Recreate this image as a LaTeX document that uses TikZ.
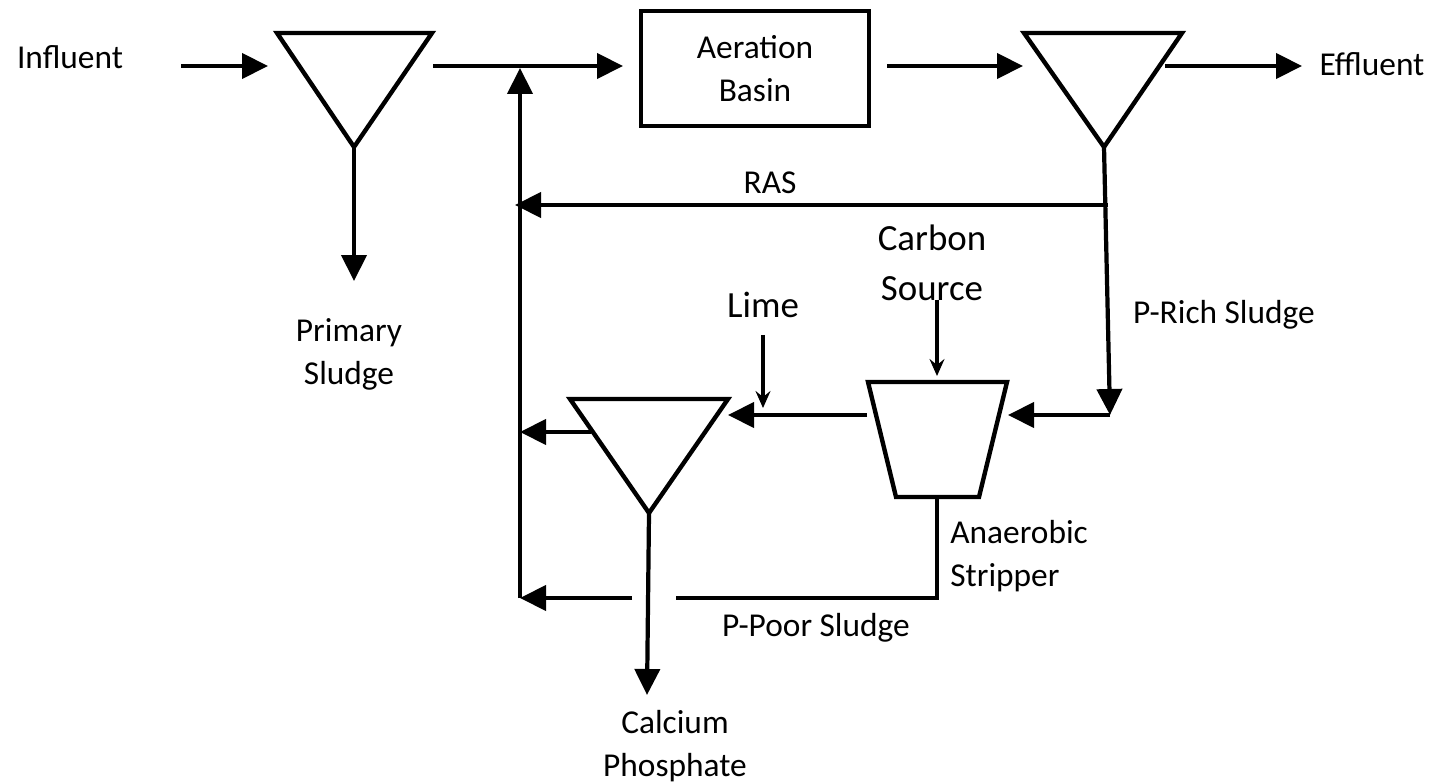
\documentclass[tikz,border=0pt]{standalone}
\usepackage{fontspec}
\setmainfont{Carlito}
\usetikzlibrary{arrows.meta,calc}

\begin{document}
\begin{tikzpicture}[x=0.02cm,y=-0.02cm,
  unit/.style={line width=2.5pt,line join=miter},
  pipe/.style={line width=2.4pt},
  flow/.style={pipe,-{Triangle[length=0.52cm,width=0.5cm]}},
  feed/.style={line width=1.9pt,-{Stealth[length=0.34cm,width=0.3cm,inset=0.12cm]}},
  lbl/.style={font=\fontsize{19}{24.5}\selectfont,align=center,inner sep=0pt},
  biglbl/.style={font=\fontsize{21}{28.5}\selectfont,align=center,inner sep=0pt}]
\useasboundingbox (0,0) rectangle (1435,783);

% primary clarifier
\coordinate (P1) at (277,33);
\coordinate (P2) at (432,33);
\coordinate (P3) at (354,147);
\draw[unit] (P1) -- (P2) -- (P3) -- cycle;

% aeration basin
\node[draw,unit,minimum width=4.56cm,minimum height=2.3cm,lbl] (basin) at (755,68.5) {Aeration\\Basin};

% secondary clarifier
\coordinate (S1) at (1024,33);
\coordinate (S2) at (1182,33);
\coordinate (S3) at (1104,147);
\draw[unit] (S1) -- (S2) -- (S3) -- cycle;

% anaerobic stripper
\coordinate (T1) at (868,382);
\coordinate (T2) at (1007,382);
\coordinate (T3) at (979,497);
\coordinate (T4) at (896,497);
\draw[unit] (T1) -- (T2) -- (T3) -- (T4) -- cycle;

% lime clarifier
\coordinate (C1) at (570,399);
\coordinate (C2) at (728,399);
\coordinate (C3) at (649,513);
\draw[unit] (C1) -- (C2) -- (C3) -- cycle;

% labels
\node[lbl] (influent) at (70,57) {Influent};
\node[lbl] (effluent) at (1372,64) {Effluent};
\node[lbl] (primary) at (349,354) {Primary\\Sludge};
\node[lbl] (ras) at (770,183) {RAS};
\node[biglbl] (carbon) at (932,263) {Carbon\\Source};
\node[biglbl] (lime) at (763,305) {Lime};
\node[lbl] (prich) at (1224,315) {P-Rich Sludge};
\node[lbl,align=left,anchor=west] (stripper) at (950,556) {Anaerobic\\Stripper};
\node[lbl] (ppoor) at (816,628) {P-Poor Sludge};
\node[lbl] (calcium) at (675,746) {Calcium\\Phosphate};

% main line
\coordinate (inS) at (181,66);
\coordinate (inE) at (268,66);
\coordinate (abS) at (433,66);
\coordinate (abE) at (623,66);
\coordinate (scS) at (887,66);
\coordinate (scE) at (1023,66);
\coordinate (efS) at (1165,66);
\coordinate (efE) at (1302,66);
\draw[flow] (inS) -- (inE);
\draw[flow] (abS) -- (abE);
\draw[flow] (scS) -- (scE);
\draw[flow] (efS) -- (efE);
\draw[flow] (P3) -- (354,281) coordinate (psE);

% return line
\coordinate (ret0) at (520,598);
\coordinate (ret1) at (520,68);
\draw[flow] (ret0) -- (ret1);
\coordinate (ras0) at (1108,205);
\draw[flow] (ras0) -- (515,205) coordinate (rasE);

% sludge to stripper
\coordinate (pr1) at (1110,415);
\draw[flow] (S3) -- (pr1);
\draw[flow] (pr1) -- (1008,415) coordinate (stE);
\draw[feed] (937,300) coordinate (csS) -- (937,376) coordinate (csE);

% stripper to lime clarifier
\draw[flow] (867,415) coordinate (stW) -- (728,415) coordinate (clE);
\draw[feed] (763,335) coordinate (liS) -- (763,408) coordinate (liE);
\draw[flow] (591,432) coordinate (clW) -- (520,432) coordinate (retC);
\draw[flow] (C3) -- (647,695) coordinate (caE);

% p-poor sludge
\coordinate (pp1) at (937,497);
\coordinate (pp2) at (937,598);
\draw[pipe] (pp1) -- (pp2) -- (676,598) coordinate (pp3);
\draw[flow] (632,598) coordinate (pp4) -- (ret0);

\end{tikzpicture}
\end{document}
